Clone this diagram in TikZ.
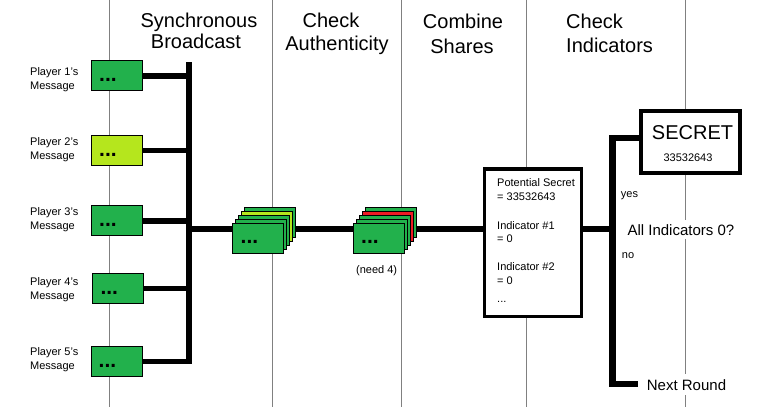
\documentclass[tikz,border=0pt]{standalone}
\usepackage{fontspec}
\setmainfont{Liberation Sans}
\definecolor{pgreen}{HTML}{22B14C}
\definecolor{plime}{HTML}{B5E61D}
\definecolor{pred}{HTML}{ED1C24}
\definecolor{gridgray}{HTML}{808080}
\begin{document}
\begin{tikzpicture}[x=1pt,y=-1pt,
  lane/.style={draw=gridgray,line width=1pt},
  wire/.style={draw=black,line width=5.6pt},
  card/.style={draw=black,line width=1pt,minimum width=51pt,minimum height=30pt,inner sep=0pt,outer sep=0pt},
  hdr/.style={font=\fontsize{20}{24}\selectfont,anchor=base,inner sep=0pt},
  hdrl/.style={font=\fontsize{20}{24}\selectfont,anchor=base west,inner sep=0pt},
  small/.style={font=\fontsize{11}{14}\selectfont,anchor=base west,inner sep=0pt},
  dotsty/.style={font=\fontsize{21}{21}\selectfont\bfseries,anchor=base west,inner sep=0pt},
  bigbox/.style={draw=black,fill=white,inner sep=0pt}
]
\useasboundingbox (0,0) rectangle (759,407);
% lanes
\foreach \lx in {109,272,401,526,685} \draw[lane] (\lx,0) -- (\lx,407);

% headers
\node[hdr] (h1a) at (199,27) {Synchronous};
\node[hdr] (h1b) at (196,48) {Broadcast};
\node[hdr] (h2a) at (331,27) {Check};
\node[hdr] (h2b) at (337,50) {Authenticity};
\node[hdr] (h3a) at (463,28) {Combine};
\node[hdr] (h3b) at (462,53) {Shares};
\node[hdrl] (h4a) at (566,28) {Check};
\node[hdrl] (h4b) at (566,52) {Indicators};

% player labels
\node[small] (l1a) at (30,75.3) {Player 1's};
\node[small] (l1b) at (30,89.3) {Message};
\node[small] (l2a) at (30,145.3) {Player 2's};
\node[small] (l2b) at (30,159.3) {Message};
\node[small] (l3a) at (30,215) {Player 3's};
\node[small] (l3b) at (30,229) {Message};
\node[small] (l4a) at (30,285) {Player 4's};
\node[small] (l4b) at (30,299) {Message};
\node[small] (l5a) at (30,355) {Player 5's};
\node[small] (l5b) at (30,369) {Message};

% bus coordinates
\coordinate (b1t) at (189,62);
\coordinate (b1b) at (189,364.3);
\coordinate (b1m) at (189,229);
\coordinate (b2t) at (612.5,135.3);
\coordinate (b2b) at (612.5,387);
\coordinate (b2m) at (612.5,229);
\coordinate (b2top) at (612.5,138.3);
\coordinate (b2bot) at (612.5,384);

% player boxes
\node[card,fill=pgreen] (p1) at (117,75.8) {};
\node[card,fill=plime]  (p2) at (117,150.5) {};
\node[card,fill=pgreen] (p3) at (117,220.8) {};
\node[card,fill=pgreen] (p4) at (118.3,288.5) {};
\node[card,fill=pgreen] (p5) at (116.5,361.5) {};
\foreach \p in {p1,p2,p3,p4,p5}
  \node[dotsty] (\p d) at ([xshift=7.5pt,yshift=-5.5pt]\p.center -| \p.west) {...};

% potential box and secret box
\node[bigbox,line width=3.3pt,minimum width=97.4pt,minimum height=147.7pt] (pot) at (533,242.85) {};
\node[bigbox,line width=4pt,minimum width=98.2pt,minimum height=62pt] (sec) at (690.4,142) {};

% wires
\draw[wire] (b1t) -- (b1b);
\foreach \p in {p1,p2,p3,p4,p5}
  \draw[wire] (\p.east) -- (\p.east -| b1t);
\draw[wire] (b1m) -- (b1m -| pot.west);
\draw[wire] (b1m -| pot.east) -- (b2m);
\draw[wire,line width=6.2pt] (b2t) -- (b2b);
\draw[wire,line width=6.2pt] (b2top) -- (b2top -| sec.west);

% stack 1
\node[card,fill=pgreen] (s1c4) at (270,222.5) {};
\node[card,fill=plime]  (s1c3) at (267,226.5) {};
\node[card,fill=pgreen] (s1c2) at (264,230.5) {};
\node[card,fill=pgreen] (s1c1) at (261,234.5) {};
\node[card,fill=pgreen] (s1c0) at (258,238.5) {};
\node[dotsty] (s1d) at (240.5,243.5) {...};
% stack 2
\node[card,fill=pgreen] (s2c4) at (391,222.5) {};
\node[card,fill=pred]   (s2c3) at (388,226.5) {};
\node[card,fill=pgreen] (s2c2) at (385,230.5) {};
\node[card,fill=pgreen] (s2c1) at (382,234.5) {};
\node[card,fill=pgreen] (s2c0) at (379,238.5) {};
\node[dotsty] (s2d) at (361,243.5) {...};
\node[small] (need) at (356,273) {(need 4)};

% potential text
\node[small] (t1) at (497,186.7) {Potential Secret};
\node[small] (t2) at (497,200.7) {= 33532643};
\node[small] (t3) at (497,229) {Indicator \#1};
\node[small] (t4) at (497,242.7) {= 0};
\node[small] (t5) at (497,270.7) {Indicator \#2};
\node[small] (t6) at (497,284.5) {= 0};
\node[small] (t7) at (497,302) {...};

% secret text
\node[hdr] (sect) at (692.5,139.3) {SECRET};
\node[font=\fontsize{11}{14}\selectfont,anchor=base,inner sep=0pt] (secn) at (688,161) {33532643};

% decision
\node[small] (yes) at (620.7,197.7) {yes};
\node[small] (no) at (621.7,258.7) {no};
\node[font=\fontsize{15}{18}\selectfont,anchor=base,fill=white,inner xsep=1pt,inner ysep=4pt] (dec) at (680.9,235) {All Indicators 0?};
\node[font=\fontsize{15}{18}\selectfont,anchor=base,fill=white,inner xsep=9pt,inner ysep=5pt] (nr) at (686.5,390) {Next Round};
\draw[wire,line width=6.2pt] (b2bot) -- (b2bot -| nr.west);
\end{tikzpicture}
\end{document}
